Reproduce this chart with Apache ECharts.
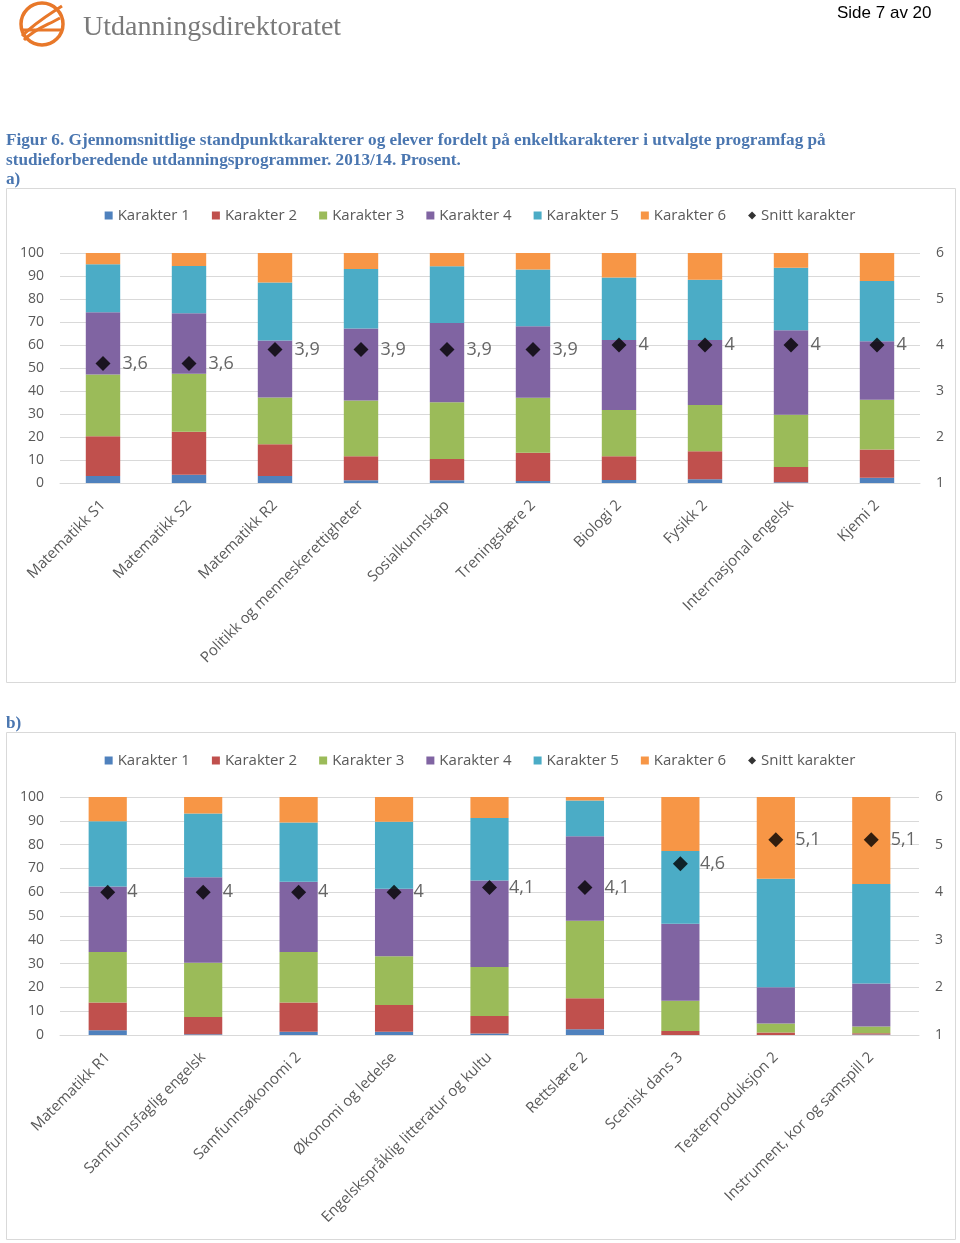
<!DOCTYPE html>
<html><head><meta charset="utf-8">
<script src="https://cdn.jsdelivr.net/npm/echarts@6/dist/echarts.min.js"></script>
<style>html,body{margin:0;padding:0;background:#fff}#c{width:960px;height:1243px}</style>
</head><body><div id="c"></div>
<script>
// ---------- DATA ----------
const seriesNames = ["Karakter 1","Karakter 2","Karakter 3","Karakter 4","Karakter 5","Karakter 6"];
const avgName = "Snitt karakter";
const catsA = ["Matematikk S1","Matematikk S2","Matematikk R2","Politikk og menneskerettigheter","Sosialkunnskap","Treningslære 2","Biologi 2","Fysikk 2","Internasjonal engelsk","Kjemi 2"];
const k1A = [3.0,3.6,3.0,1.2,1.2,0.9,1.3,1.6,0.3,2.3];
const k2A = [17.3,18.7,13.8,10.4,9.2,12.3,10.3,12.2,6.7,12.3];
const k3A = [26.9,25.2,20.4,24.3,24.7,23.9,20.1,20.1,22.7,21.6];
const k4A = [27.0,26.3,24.8,31.3,34.5,31.0,30.5,28.3,36.7,25.4];
const k5A = [20.9,20.5,25.2,25.8,24.6,24.7,27.1,26.2,27.2,26.2];
const k6A = [4.9,5.7,12.8,7.0,5.8,7.2,10.7,11.6,6.4,12.2];
const avgA = [3.6,3.6,3.9,3.9,3.9,3.9,4,4,4,4];

const catsB = ["Matematikk R1","Samfunnsfaglig engelsk","Samfunnsøkonomi 2","Økonomi og ledelse","Engelskspråklig litteratur og kultu","Rettslære 2","Scenisk dans 3","Teaterproduksjon 2","Instrument, kor og samspill 2"];
const k1B = [2.0,0.3,1.4,1.4,0.6,2.4,0,0,0.2];
const k2B = [11.7,7.3,12.3,11.2,7.4,13.0,1.7,1.1,0.5];
const k3B = [21.2,22.8,21.2,20.5,20.6,32.6,12.7,3.7,2.9];
const k4B = [27.5,35.9,29.5,28.3,36.3,35.5,32.3,15.3,18.0];
const k5B = [27.4,26.8,24.9,28.2,26.3,15.0,30.6,45.5,41.8];
const k6B = [10.2,6.9,10.7,10.4,8.8,1.5,22.7,34.4,36.6];
const avgB = [4,4,4,4,4.1,4.1,4.6,5.1,5.1];

const leftTicks = [0,100,10];   // min,max,interval
const rightTicks = [1,6,1];

// ---------- STYLE ----------
const colors = ["#4F81BD","#C0504D","#9BBB59","#8064A2","#4BACC6","#F79646"];
const FONT = "Open Sans";
const axisGrey = "#595959";
const gridGrey = "#d9d9d9";
const titleBlue = "#4a76b0";

const chart = echarts.init(document.getElementById('c'), null, {renderer:'canvas'});

function legend(top){
  return {
    top: top, left: 'center', itemWidth: 8, itemHeight: 8, itemGap: 22,
    textStyle: {fontFamily: FONT, fontSize: 15, color: axisGrey},
    data: seriesNames.map(n=>({name:n, icon:'rect'})).concat([{name:avgName, icon:'diamond', itemStyle:{color:'#000'}}])
  };
}
function xAx(cats, gi){
  return {type:'category', gridIndex: gi, data: cats,
    axisLine:{lineStyle:{color:gridGrey}}, axisTick:{show:false},
    axisLabel:{rotate:45, interval:0, margin:20, color:axisGrey, fontFamily:FONT, fontSize:15}};
}
function yLeft(gi){
  return {type:'value', gridIndex: gi, min:leftTicks[0], max:leftTicks[1], interval:leftTicks[2], position:'left',
    axisLine:{show:false}, axisTick:{show:false},
    splitLine:{lineStyle:{color:gridGrey}},
    axisLabel:{margin:16, color:axisGrey, fontFamily:FONT, fontSize:14}};
}
function yRight(gi){
  return {type:'value', gridIndex: gi, min:rightTicks[0], max:rightTicks[1], interval:rightTicks[2], position:'right',
    axisLine:{show:false}, axisTick:{show:false}, splitLine:{show:false},
    axisLabel:{margin:16, color:axisGrey, fontFamily:FONT, fontSize:14}};
}
function fmt(v){ return String(v).replace('.', ','); }
function seriesFor(data, xi, yL, yR, avg, stack){
  const out = data.map((d,i)=>({
    name: seriesNames[i], type:'bar', stack: stack, xAxisIndex: xi, yAxisIndex: yL,
    barWidth: '40%', itemStyle:{color: colors[i]}, data: d, animation:false
  }));
  out.push({name: avgName, type:'scatter', xAxisIndex: xi, yAxisIndex: yR, symbol:'diamond', symbolSize:15,
    itemStyle:{color:'#000'}, z:10, animation:false,
    label:{show:true, position:'right', distance:12, color:'#404040', fontFamily:FONT, fontSize:18,
      formatter: p => fmt(p.value)},
    data: avg});
  return out;
}

const orange = "#E8782A";

const option = {
  animation:false,
  color: colors,
  title: [
    {text:'Side 7 av 20', left: 832, top: 0, textStyle:{fontFamily:'Liberation Sans', fontWeight:'normal', fontSize:17, color:'#000'}},
    {text:'Utdanningsdirektoratet', left: 78, top: 9, textStyle:{fontFamily:'Liberation Serif', fontWeight:'normal', fontSize:28, color:'#7a7a7a'}},
    {text:'Figur 6. Gjennomsnittlige standpunktkarakterer og elever fordelt på enkeltkarakterer i utvalgte programfag på\nstudieforberedende utdanningsprogrammer. 2013/14. Prosent.\na)',
      left: 1, top: 126, textStyle:{fontFamily:'Liberation Serif', fontWeight:'bold', fontSize:17.2, lineHeight:19.5, color:titleBlue}},
    {text:'b)', left: 1, top: 710, textStyle:{fontFamily:'Liberation Serif', fontWeight:'bold', fontSize:17.2, color:titleBlue}}
  ],
  graphic: [
    {type:'rect', shape:{x:6.5, y:188.5, width:949, height:494}, style:{fill:'none', stroke:gridGrey, lineWidth:1}, silent:true},
    {type:'rect', shape:{x:6.5, y:732.5, width:949, height:507}, style:{fill:'none', stroke:gridGrey, lineWidth:1}, silent:true},
    {type:'circle', shape:{cx:42, cy:24, r:21}, style:{fill:'none', stroke:orange, lineWidth:3.5}, silent:true},
    {type:'bezierCurve', shape:{x1:22, y1:36, x2:62, y2:6, cpx1:36, cpy1:22, cpx2:50, cpy2:14}, style:{fill:'none', stroke:orange, lineWidth:3}, silent:true},
    {type:'bezierCurve', shape:{x1:24, y1:40, x2:60, y2:18, cpx1:36, cpy1:28, cpx2:46, cpy2:26}, style:{fill:'none', stroke:orange, lineWidth:3}, silent:true},
    {type:'line', shape:{x1:22, y1:30, x2:62, y2:30}, style:{stroke:orange, lineWidth:3}, silent:true}
  ],
  legend: [legend(203), legend(748)],
  grid: [
    {left:60, right:40, top:253, height:230, containLabel:false},
    {left:60, right:41, top:797, height:238, containLabel:false}
  ],
  xAxis: [xAx(catsA,0), xAx(catsB,1)],
  yAxis: [yLeft(0), yRight(0), yLeft(1), yRight(1)],
  series: [].concat(
    seriesFor([k1A,k2A,k3A,k4A,k5A,k6A], 0, 0, 1, avgA, 'a'),
    seriesFor([k1B,k2B,k3B,k4B,k5B,k6B], 1, 2, 3, avgB, 'b')
  )
};
chart.setOption(option);
</script>
</body></html>
